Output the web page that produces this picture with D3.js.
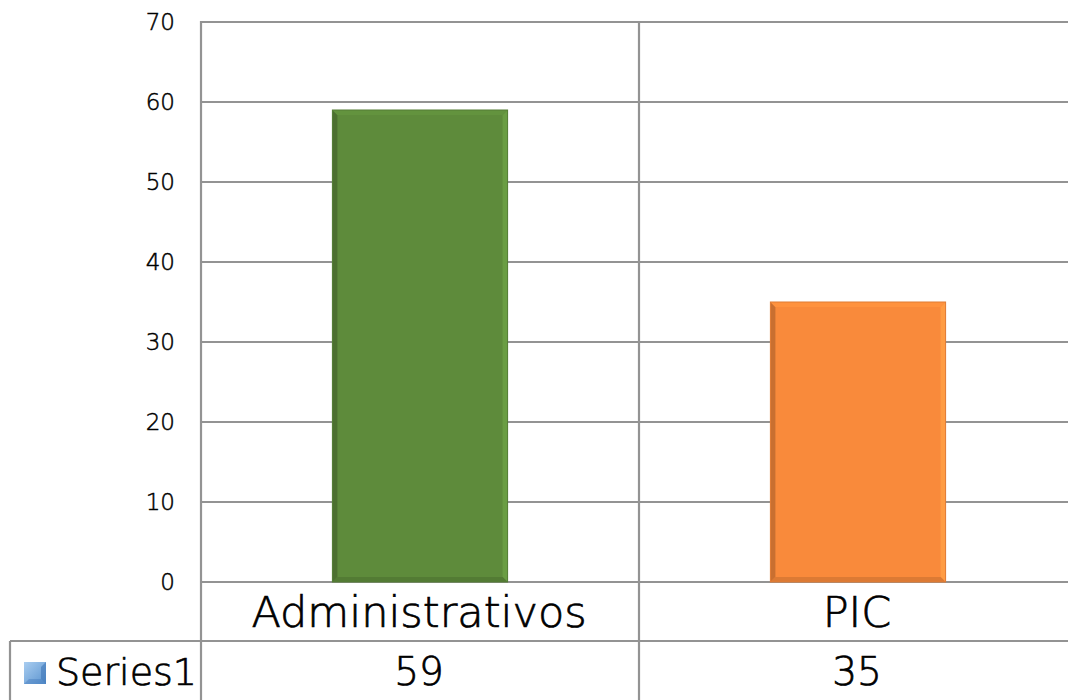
<!DOCTYPE html>
<html>
<head>
<meta charset="utf-8">
<script src="https://cdn.jsdelivr.net/npm/d3@7"></script>
<style>
  html, body { margin: 0; padding: 0; background: #fff; }
  svg { display: block; }
  text { font-family: "DejaVu Sans", "Noto Sans", sans-serif; font-weight: 200; fill: #000; stroke: #000; stroke-width: 0.7px; }
</style>
</head>
<body>
<svg id="chart" width="1068" height="700"></svg>
<script>
// Chart data
const categories = ["Administrativos", "PIC"];
const values = [59, 35];
const seriesName = "Series1";
const yTicks = [0, 10, 20, 30, 40, 50, 60, 70];
const barColors = ["#5e8b3b", "#f98a3b"];

const svg = d3.select("#chart");
const W = 1068, H = 700;

// Plot frame
const plot = { left: 201, right: 1077, top: 22, bottom: 582 };
const tableRow1 = 641;   // bottom of category row / top of value row
const tableLeft = 10;
const gridColor = "#939393";

const y = d3.scaleLinear().domain([0, 70]).range([plot.bottom, plot.top]);
const x = d3.scaleBand().domain(categories).range([plot.left, plot.right]).paddingInner(0).paddingOuter(0);
const barW = x.bandwidth() * 0.4;

// Gradient for legend key
const defs = svg.append("defs");
const legendGrad = defs.append("linearGradient").attr("id", "legGrad")
  .attr("x1", 0).attr("y1", 0).attr("x2", 1).attr("y2", 1);
legendGrad.append("stop").attr("offset", 0).attr("stop-color", "#a9cdf0");
legendGrad.append("stop").attr("offset", 1).attr("stop-color", "#5a93cf");

// Horizontal gridlines
svg.append("g").selectAll("line").data(yTicks).join("line")
  .attr("x1", plot.left).attr("x2", W)
  .attr("y1", d => y(d)).attr("y2", d => y(d))
  .attr("stroke", gridColor).attr("stroke-width", 2.2);

// Vertical category dividers (axis line and between categories), extending through table
const dividers = [plot.left].concat(categories.slice(1).map(c => x(c)));
svg.append("g").selectAll("line").data(dividers).join("line")
  .attr("x1", d => d).attr("x2", d => d)
  .attr("y1", plot.top - 1).attr("y2", H)
  .attr("stroke", gridColor).attr("stroke-width", 2.2);

// Data table horizontal rule and legend cell
svg.append("line").attr("x1", tableLeft).attr("x2", W)
  .attr("y1", tableRow1).attr("y2", tableRow1)
  .attr("stroke", gridColor).attr("stroke-width", 2.2);
svg.append("line").attr("x1", tableLeft).attr("x2", tableLeft)
  .attr("y1", tableRow1).attr("y2", H)
  .attr("stroke", gridColor).attr("stroke-width", 2.2);

// Y tick labels
svg.append("g").selectAll("text").data(yTicks).join("text")
  .attr("x", 175).attr("y", d => y(d))
  .attr("dy", "0.36em")
  .attr("text-anchor", "end")
  .attr("font-size", 23)
  .style("stroke-width", "0.5px")
  .text(d => d);

// Bars with bevelled edges
const bars = svg.append("g").selectAll("g").data(categories).join("g");
bars.each(function(c, i) {
  const g = d3.select(this);
  const x0 = x(c) + (x.bandwidth() - barW) / 2;
  const x1 = x0 + barW;
  const y0 = y(values[i]);
  const y1 = y(0);
  const b = 5;
  const col = d3.color(barColors[i]);
  g.append("rect").attr("x", x0).attr("y", y0).attr("width", barW).attr("height", y1 - y0)
    .attr("fill", col);
  // left edge (shadow)
  g.append("polygon").attr("points", [[x0, y0], [x0 + b, y0 + b], [x0 + b, y1 - b], [x0, y1]].join(" "))
    .attr("fill", col.darker(0.6));
  // right edge (highlight)
  g.append("polygon").attr("points", [[x1, y0], [x1 - b, y0 + b], [x1 - b, y1 - b], [x1, y1]].join(" "))
    .attr("fill", col.brighter(0.35));
  // top edge
  g.append("polygon").attr("points", [[x0, y0], [x1, y0], [x1 - b, y0 + b], [x0 + b, y0 + b]].join(" "))
    .attr("fill", col.brighter(0.15));
  // bottom edge
  g.append("polygon").attr("points", [[x0, y1], [x1, y1], [x1 - b, y1 - b], [x0 + b, y1 - b]].join(" "))
    .attr("fill", col.darker(0.35));
  g.append("rect").attr("x", x0).attr("y", y0).attr("width", barW).attr("height", y1 - y0)
    .attr("fill", "none").attr("stroke", col.darker(0.3)).attr("stroke-width", 1);
});

// Category labels (table header row)
svg.append("g").selectAll("text").data(categories).join("text")
  .attr("x", d => x(d) + x.bandwidth() / 2 - 1)
  .attr("y", 627)
  .attr("text-anchor", "middle")
  .attr("font-size", 43)
  .text(d => d);

// Value row
svg.append("g").selectAll("text").data(values).join("text")
  .attr("x", (d, i) => x(categories[i]) + x.bandwidth() / 2 - 1)
  .attr("y", 685)
  .attr("text-anchor", "middle")
  .attr("font-size", 39)
  .text(d => d);

// Legend key + series name
const kx = 24, ky = 662, ks = 22;
svg.append("rect").attr("x", kx).attr("y", ky).attr("width", ks).attr("height", ks)
  .attr("fill", "url(#legGrad)");
svg.append("polygon")
  .attr("points", [[kx + ks, ky], [kx + ks - 5, ky + 5], [kx + ks - 5, ky + ks - 5], [kx + ks, ky + ks]].join(" "))
  .attr("fill", "#3f76b8").attr("opacity", 0.6);
svg.append("polygon")
  .attr("points", [[kx, ky + ks], [kx + 5, ky + ks - 5], [kx + ks - 5, ky + ks - 5], [kx + ks, ky + ks]].join(" "))
  .attr("fill", "#3f76b8").attr("opacity", 0.4);
svg.append("text").attr("x", 56).attr("y", 685)
  .attr("font-size", 38)
  .text(seriesName);
</script>
</body>
</html>
